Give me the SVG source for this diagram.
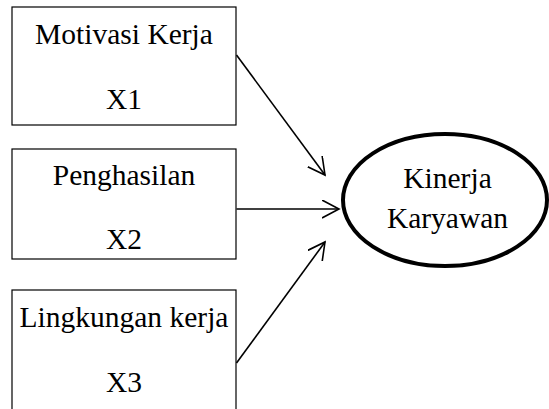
<svg xmlns="http://www.w3.org/2000/svg" width="549" height="409" viewBox="0 0 549 409">
<style>
.box{fill:#fff;stroke:#000;stroke-width:1.2}
.t{font-size:29.5px;fill:#000;text-anchor:middle}
.c{stroke:#000;stroke-width:1.6;fill:none}
</style>
<defs>
<marker id="ah" markerWidth="20" markerHeight="20" refX="17" refY="9" orient="auto" markerUnits="userSpaceOnUse">
<path d="M0,0 L17,9 L0,18" fill="none" stroke="#000" stroke-width="1.6"/>
</marker>
</defs>
<rect width="549" height="409" fill="#fff"/>
<g font-family="Liberation Serif, Tinos, Times New Roman, DejaVu Serif, serif">
<g id="x1">
<rect class="box" x="12" y="7" width="224" height="118"/>
<text class="t" x="124" y="44">Motivasi Kerja</text>
<text class="t" x="124" y="109">X1</text>
</g>
<g id="x2">
<rect class="box" x="12" y="149" width="224" height="110"/>
<text class="t" x="124" y="185">Penghasilan</text>
<text class="t" x="124" y="249">X2</text>
</g>
<g id="x3">
<rect class="box" x="12" y="290" width="224" height="130"/>
<text class="t" x="124" y="327">Lingkungan kerja</text>
<text class="t" x="124" y="392">X3</text>
</g>
<g id="y">
<ellipse cx="445" cy="200" rx="102" ry="66" fill="#fff" stroke="#000" stroke-width="4"/>
<text class="t" x="447.5" y="188">Kinerja</text>
<text class="t" x="447.5" y="228">Karyawan</text>
</g>
</g>
<g id="connectors">
<line class="c" x1="236.5" y1="55" x2="325" y2="175" marker-end="url(#ah)"/>
<line class="c" x1="236.5" y1="209" x2="339" y2="209" marker-end="url(#ah)"/>
<line class="c" x1="236.5" y1="363" x2="325" y2="242" marker-end="url(#ah)"/>
</g>
</svg>
